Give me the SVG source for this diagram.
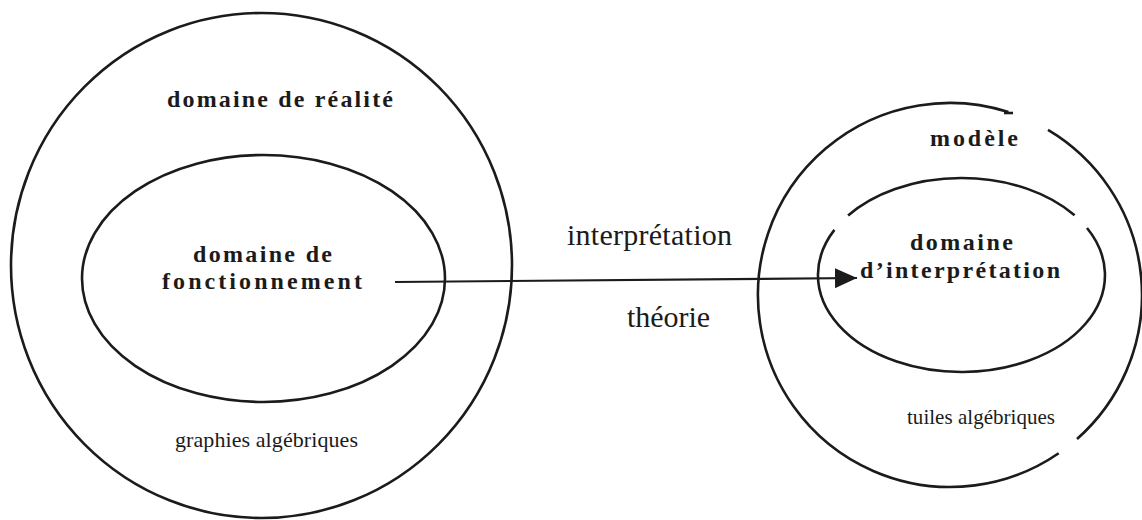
<svg xmlns="http://www.w3.org/2000/svg" width="1142" height="520" viewBox="0 0 1142 520">
<style>
.shape{fill:none;stroke:#1b1b1b;stroke-width:2.6}
.bold{font-family:"Liberation Serif",serif;font-weight:bold;fill:#1b1b1b;font-size:24px}
.reg{font-family:"Liberation Serif",serif;fill:#1b1b1b}
.conn{stroke:#1b1b1b;stroke-width:2.2;fill:none}
</style>
<defs>
<marker id="arrow" markerWidth="22" markerHeight="20" refX="22" refY="10" orient="auto" markerUnits="userSpaceOnUse">
<polygon points="0,0 22,10 0,20" fill="#1b1b1b"/>
</marker>
</defs>
<rect width="1142" height="520" fill="#fff"/>
<g id="domaine-realite">
<ellipse class="shape" cx="261.5" cy="265.5" rx="250.5" ry="252.5"/>
<text class="bold" x="167" y="107" textLength="226" lengthAdjust="spacing">domaine de réalité</text>
<text class="reg" x="175" y="447" font-size="22" textLength="183" lengthAdjust="spacing">graphies algébriques</text>
</g>
<g id="domaine-fonctionnement">
<ellipse class="shape" cx="263.5" cy="278.5" rx="181.5" ry="123.5"/>
<text class="bold" x="193" y="262" textLength="139" lengthAdjust="spacing">domaine de</text>
<text class="bold" x="162" y="289" textLength="200" lengthAdjust="spacing">fonctionnement</text>
</g>
<g id="modele">
<path class="shape" d="M1048,129.9 A192,192 0 0 1 1077,439"/>
<path class="shape" d="M1058.7,453.2 A192,192 0 1 1 1008.4,112.1"/>
<line class="shape" x1="1004" y1="113" x2="1013" y2="113" stroke-width="1.5"/>
<text class="bold" x="930" y="146" textLength="88" lengthAdjust="spacing">modèle</text>
<text class="reg" x="907" y="424" font-size="21" textLength="148" lengthAdjust="spacing">tuiles algébriques</text>
</g>
<g id="domaine-interpretation">
<path class="shape" d="M848.1,215.5 A143.5,97 0 0 1 1074.6,215.3"/>
<path class="shape" d="M1087,228 A143.5,97 0 1 1 834.4,229.9"/>
<text class="bold" x="910" y="250" textLength="103" lengthAdjust="spacing">domaine</text>
<text class="bold" x="860" y="278" textLength="200" lengthAdjust="spacing">d’interprétation</text>
</g>
<g id="connectors">
<line class="conn" x1="395" y1="282" x2="857" y2="278" marker-end="url(#arrow)"/>
<text class="reg" x="567" y="245" font-size="30" textLength="165" lengthAdjust="spacing">interprétation</text>
<text class="reg" x="627" y="327" font-size="30" textLength="83" lengthAdjust="spacing">théorie</text>
</g>
</svg>
